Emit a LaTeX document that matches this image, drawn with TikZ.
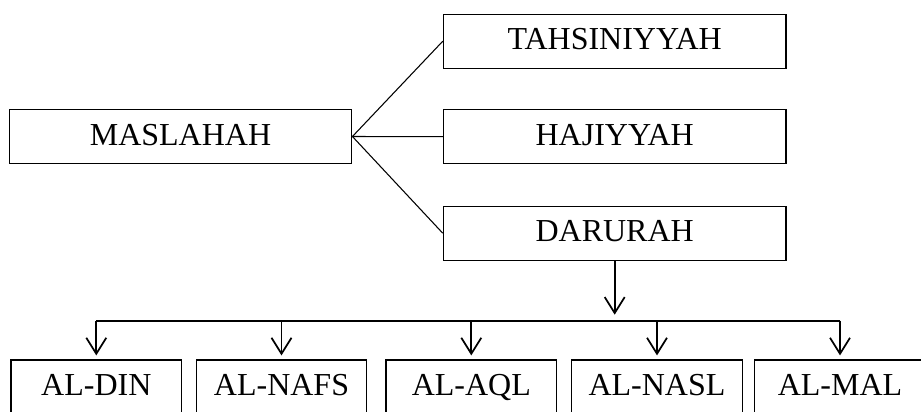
\documentclass[tikz,border=0pt]{standalone}
\usepackage{fontspec}
\setmainfont{Liberation Serif}
\usetikzlibrary{arrows.meta}

\tikzset{
  bigbox/.style={draw, line width=0.9pt, minimum width=257pt, minimum height=40.5pt,
    inner sep=0pt, text height=16pt, text depth=3pt},
  smallbox/.style={bigbox, minimum width=128pt},
  arrow/.style={line width=1.3pt, -{Straight Barb[length=12pt,width=15pt,line width=1.3pt]}}
}

\begin{document}
\begin{tikzpicture}[x=0.75pt, y=-0.75pt, font=\fontsize{24}{28}\selectfont]
		\useasboundingbox (0,0) rectangle (921,411);

		\node (mas) [bigbox] at (180.5,136.5) {MASLAHAH};
		\node (tah) [bigbox] at (614.7,41.2) {TAHSINIYYAH};
		\node (haj) [bigbox] at (614.7,136.7) {HAJIYYAH};
		\node (dar) [bigbox] at (614.7,233.2) {DARURAH};

		\node (din) [smallbox] at (96.3,387) {AL-DIN};
		\node (nafs) [smallbox] at (281.5,387) {AL-NAFS};
		\node (aql) [smallbox] at (471.3,387) {AL-AQL};
		\node (nasl) [smallbox] at (657,387) {AL-NASL};
		\node (mal) [smallbox] at (840,387) {AL-MAL};

		\coordinate (bar) at (0,320.7);

		\draw[line width=0.8pt] (mas.east) -- (tah.west);
		\draw[line width=0.8pt] (mas.east) -- (haj.west);
		\draw[line width=0.8pt] (mas.east) -- (dar.west);

		\draw[arrow, shorten >=4.5pt] (dar.south) -- (dar.south |- bar);
		\draw[line width=1.2pt] (din.north |- bar) -- (mal.north |- bar);

		\draw[arrow, shorten >=3pt] (din.north |- bar) -- (din.north);
		\draw[arrow, shorten >=3pt] (nafs.north |- bar) -- (nafs.north);
		\draw[arrow, shorten >=3pt] (aql.north |- bar) -- (aql.north);
		\draw[arrow, shorten >=3pt] (nasl.north |- bar) -- (nasl.north);
		\draw[arrow, shorten >=3pt] (mal.north |- bar) -- (mal.north);
	\end{tikzpicture}
\end{document}
